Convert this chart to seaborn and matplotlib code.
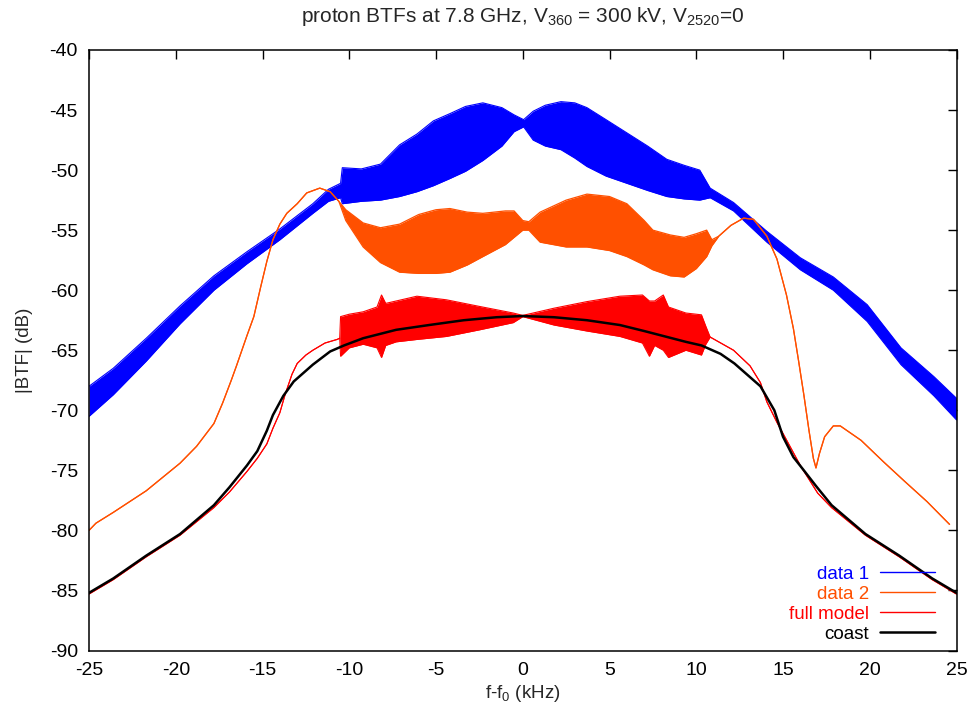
import numpy as np
import pandas as pd
import matplotlib
matplotlib.use("Agg")
import matplotlib.pyplot as plt
import seaborn as sns
from matplotlib.lines import Line2D

# ---------------- data (kHz, dB) ----------------
# data 1 (blue): noisy trace -> upper / lower envelope
data1_x = [-25.0, -23.6, -21.7, -19.75, -17.8, -15.9, -14.0, -12.1, -11.2, -10.5,
           -10.4, -9.3, -8.2, -7.1, -6.1, -5.15, -4.2, -3.3, -2.3, -1.2, -0.5,
           0.05, 0.6, 1.3, 2.2, 3.0, 3.7, 4.8, 6.0, 7.2, 8.3, 9.3, 10.2, 10.8,
           12.15, 14.07, 16.0, 17.9, 19.85, 21.8, 23.7, 25.0]
data1_hi = [-68.0, -66.5, -64.0, -61.3, -58.8, -56.8, -54.9, -52.8, -51.6, -51.1,
            -49.8, -49.9, -49.5, -47.9, -47.0, -45.9, -45.3, -44.7, -44.4, -44.8, -45.4,
            -45.8, -45.1, -44.6, -44.3, -44.4, -44.8, -45.8, -46.9, -48.0, -49.1, -49.6, -50.0, -51.5,
            -52.7, -55.1, -57.3, -58.9, -61.2, -64.8, -67.2, -69.0]
data1_lo = [-70.5, -68.7, -65.9, -62.8, -60.0, -57.8, -55.8, -53.6, -52.6, -52.3,
            -52.8, -52.6, -52.5, -52.2, -51.8, -51.3, -50.7, -50.1, -49.2, -48.0, -46.8,
            -46.4, -47.5, -48.0, -48.3, -49.0, -49.7, -50.5, -51.1, -51.7, -52.2, -52.4, -52.5, -52.3,
            -53.4, -56.0, -58.3, -60.0, -62.6, -66.2, -68.8, -70.8]

# data 2 (orange): thin line outside, oscillating band inside
data2_x = [-25.0, -24.6, -23.6, -21.7, -19.75, -18.8, -17.8, -17.3, -16.8, -16.5,
           -15.9, -15.5, -15.1, -14.75, -14.4, -14.0, -13.6, -13.0, -12.45, -11.7,
           -11.1, -10.6, -10.2, -9.2, -8.2, -7.1, -6.0, -5.0, -4.2, -3.2, -2.3, -1.0,
           -0.5, 0.0, 0.35, 1.0, 2.5, 3.7, 5.0, 6.0, 7.0, 7.5, 8.5, 9.3, 10.0, 10.6,
           10.9, 11.3, 12.0, 12.73, 13.3, 14.07, 14.65, 15.2, 15.6, 15.9, 16.2, 16.5,
           16.75, 16.9, 17.1, 17.4, 17.9, 18.3, 19.5, 20.8, 22.0, 23.3, 24.6]
data2_hi = [-80.0, -79.4, -78.5, -76.7, -74.4, -73.0, -71.1, -69.4, -67.5, -66.3,
            -63.8, -62.2, -59.7, -57.6, -55.8, -54.5, -53.6, -52.8, -51.9, -51.5,
            -51.8, -52.6, -53.3, -54.4, -54.8, -54.5, -53.7, -53.3, -53.2, -53.5, -53.6, -53.4,
            -53.4, -54.2, -54.3, -53.5, -52.5, -52.0, -52.2, -52.8, -54.2, -55.0, -55.4, -55.6, -55.3, -55.0,
            -55.8, -55.5, -54.6, -54.0, -54.1, -55.5, -57.4, -60.4, -63.2, -65.9, -68.7, -71.7,
            -74.0, -74.8, -73.6, -72.2, -71.3, -71.3, -72.5, -74.3, -75.9, -77.6, -79.5]
data2_lo = [-80.0, -79.4, -78.5, -76.7, -74.4, -73.0, -71.1, -69.4, -67.5, -66.3,
            -63.8, -62.2, -59.7, -57.6, -55.8, -54.5, -53.6, -52.8, -51.9, -51.5,
            -51.8, -52.6, -54.2, -56.4, -57.7, -58.5, -58.6, -58.6, -58.5, -57.9, -57.2, -56.2,
            -55.6, -55.0, -55.0, -56.0, -56.4, -56.4, -56.7, -57.2, -57.9, -58.3, -58.8, -58.9, -58.2, -57.2,
            -56.3, -55.5, -54.6, -54.0, -54.1, -55.5, -57.4, -60.4, -63.2, -65.9, -68.7, -71.7,
            -74.0, -74.8, -73.6, -72.2, -71.3, -71.3, -72.5, -74.3, -75.9, -77.6, -79.5]

# full model (red): smooth line outside, oscillating band inside
model_x = [-25.0, -23.6, -21.7, -19.75, -17.8, -16.9, -15.9, -15.3, -14.75, -14.4,
           -14.0, -13.7, -13.3, -13.0, -12.5, -12.1, -11.4, -10.7, -10.55, -10.5,
           -10.0, -9.2, -8.4, -8.14, -7.9, -7.3, -6.1, -4.4, -2.5, -0.55, 0.0,
           1.8, 3.7, 5.6, 6.9, 7.3, 7.6, 8.1, 8.4, 9.4, 10.3, 10.55, 10.8, 12.15,
           13.1, 13.7, 14.07, 14.65, 15.4, 16.0, 17.0, 17.8, 19.75, 21.7, 23.6, 25.0]
model_hi = [-85.3, -84.1, -82.2, -80.4, -78.1, -76.8, -75.1, -74.0, -72.8, -71.5,
            -70.2, -68.7, -67.0, -66.1, -65.4, -65.0, -64.4, -64.1, -64.0, -62.2,
            -62.0, -61.8, -61.4, -60.4, -61.1, -60.9, -60.5, -60.8, -61.35, -61.9, -62.1,
            -61.5, -60.95, -60.5, -60.4, -60.9, -60.9, -60.4, -61.4, -61.9, -62.05, -63.0, -63.9, -65.0,
            -66.3, -67.7, -69.3, -71.0, -73.0, -74.6, -76.9, -78.1, -80.4, -82.2, -84.1, -85.3]
model_lo = [-85.3, -84.1, -82.2, -80.4, -78.1, -76.8, -75.1, -74.0, -72.8, -71.5,
            -70.2, -68.7, -67.0, -66.1, -65.4, -65.0, -64.4, -64.1, -64.0, -65.5,
            -64.8, -64.5, -64.8, -65.6, -64.6, -64.3, -64.1, -63.85, -63.3, -62.7, -62.2,
            -62.9, -63.4, -63.85, -64.4, -65.5, -64.6, -65.0, -65.6, -65.0, -65.4, -64.5, -63.9, -65.0,
            -66.3, -67.7, -69.3, -71.0, -73.0, -74.6, -76.9, -78.1, -80.4, -82.2, -84.1, -85.3]

# coast (black)
coast_x = [-25.0, -23.6, -21.7, -19.75, -17.8, -16.9, -15.9, -15.3, -14.75, -14.4,
           -13.8, -13.2, -12.1, -11.1, -10.3, -9.2, -7.3, -5.4, -3.4, -1.5, 0.0,
           1.8, 3.7, 5.6, 7.0, 9.4, 10.3, 11.4, 12.2, 13.7, 14.5, 15.0, 15.6, 16.2,
           16.9, 17.8, 19.75, 21.7, 23.6, 25.0]
coast_y = [-85.2, -84.0, -82.1, -80.3, -77.9, -76.4, -74.6, -73.4, -71.7, -70.4,
           -68.8, -67.6, -66.2, -65.1, -64.6, -64.0, -63.3, -62.9, -62.5, -62.25, -62.15,
           -62.25, -62.5, -62.9, -63.4, -64.3, -64.6, -65.3, -66.1, -68.0, -70.0, -72.2, -73.9, -75.0,
           -76.3, -77.9, -80.3, -82.1, -84.0, -85.2]

series_labels = ["data 1", "data 2", "full model", "coast"]
series_colors = ["#0000ff", "#ff5000", "#ff0000", "#000000"]
x_ticks = list(range(-25, 30, 5))
y_ticks = list(range(-90, -35, 5))

# ---------------- styling ----------------
sns.set_style("white")
plt.rcParams["font.family"] = ["Liberation Sans", "DejaVu Sans"]
plt.rcParams["mathtext.fontset"] = "custom"
plt.rcParams["mathtext.rm"] = "Liberation Sans"
plt.rcParams["mathtext.it"] = "Liberation Sans:italic"
plt.rcParams["mathtext.default"] = "regular"

FS = 13.5
FS_TICK = 14
FS_TITLE = 15
fig = plt.figure(figsize=(9.72, 7.15), dpi=100)
ax = fig.add_axes([89 / 972, 1 - 650.5 / 715, (956.5 - 89) / 972, (650.5 - 50) / 715])

def band(x, hi, lo, color, lw):
    df = pd.DataFrame({"x": x, "hi": hi, "lo": lo})
    ax.fill_between(df["x"], df["lo"], df["hi"], color=color, linewidth=0)
    sns.lineplot(data=df, x="x", y="hi", color=color, lw=lw, ax=ax, estimator=None, sort=False)
    sns.lineplot(data=df, x="x", y="lo", color=color, lw=lw, ax=ax, estimator=None, sort=False)

band(data1_x, data1_hi, data1_lo, series_colors[0], 0.8)
band(data2_x, data2_hi, data2_lo, series_colors[1], 0.9)
band(model_x, model_hi, model_lo, series_colors[2], 0.8)
sns.lineplot(x=coast_x, y=coast_y, color=series_colors[3], lw=1.8, ax=ax,
             estimator=None, sort=False)

ax.set_xlim(-25, 25)
ax.set_ylim(-90, -40)
ax.set_xticks(x_ticks)
ax.set_yticks(y_ticks)
ax.set_xticklabels([str(t) for t in x_ticks])
ax.set_yticklabels([str(t) for t in y_ticks])
ax.tick_params(direction="in", length=6.5, width=1.0, top=True, right=True,
               labelsize=FS_TICK, colors="black", pad=8.5)
ax.tick_params(axis="y", pad=8)
for s in ax.spines.values():
    s.set_visible(True)
    s.set_linewidth(1.1)
    s.set_color("black")

ax.set_xlabel(r"f-f$_0$ (kHz)", fontsize=FS, labelpad=3)
ax.set_ylabel("|BTF| (dB)", fontsize=FS, labelpad=12)
ax.set_title(r"proton BTFs at 7.8 GHz, V$_{360}$ = 300 kV, V$_{2520}$=0", fontsize=FS_TITLE, pad=20)

handles = [Line2D([], [], color=c, lw=(1.8 if c == "#000000" else 1.0)) for c in series_colors]
leg = ax.legend(handles, series_labels, loc="lower right", bbox_to_anchor=(0.975, 0.0133),
                frameon=False, markerfirst=False, fontsize=FS, labelcolor=series_colors,
                handlelength=2.9, handletextpad=0.6, labelspacing=0.15, borderpad=0,
                borderaxespad=0)

fig.savefig("out.png", dpi=100)
